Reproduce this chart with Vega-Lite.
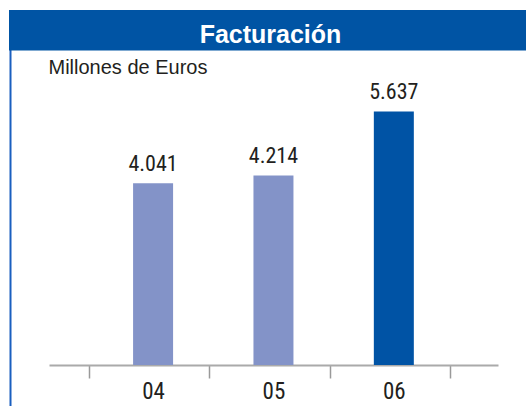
{
  "$schema": "https://vega.github.io/schema/vega-lite/v6.json",
  "autosize": {"type": "none"},
  "width": 517,
  "height": 396,
  "padding": {"left": 9, "top": 10, "right": 0, "bottom": 0},
  "background": "white",
  "config": {
    "view": {"stroke": null},
    "locale": {"number": {"decimal": ",", "thousands": ".", "grouping": [3], "currency": ["", " €"]}}
  },
  "data": {"values": [
    {"year": "04", "value": 4041},
    {"year": "05", "value": 4214},
    {"year": "06", "value": 5637}
  ]},
  "layer": [
    {
      "data": {"values": [{"title": "Facturación"}]},
      "mark": {"type": "rect", "color": "#0054a4"},
      "encoding": {
        "y": {"datum": 7895, "type": "quantitative", "scale": {"domain": [-912, 7895], "nice": false, "zero": false}},
        "y2": {"datum": 6994}
      }
    },
    {
      "data": {"values": [{"title": "Facturación"}]},
      "mark": {"type": "text", "color": "white", "fontSize": 25, "fontWeight": "bold", "font": "Liberation Sans", "baseline": "alphabetic", "align": "center", "dx": 3},
      "encoding": {
        "text": {"field": "title"},
        "y": {"datum": 7154, "type": "quantitative", "scale": {"domain": [-912, 7895], "nice": false, "zero": false}}
      }
    },
    {
      "mark": {"type": "bar", "width": 40, "xOffset": 4},
      "encoding": {
        "x": {
          "field": "year", "type": "ordinal",
          "scale": {"range": [40, 489], "paddingInner": 0, "paddingOuter": 0.365, "align": 0.454},
          "axis": {
            "title": null, "orient": "bottom", "offset": -41, "tickBand": "extent",
            "domainColor": "#aaaaaa", "domainWidth": 2,
            "tickColor": "#9a9a9a", "tickWidth": 1.5, "tickSize": 13,
            "labelFont": "Roboto Condensed, DejaVu Sans Condensed, Roboto, sans-serif", "labelFontSize": 23, "labelColor": "#231f20",
            "labelPadding": 20, "labelBaseline": "alphabetic", "labelOffset": 4, "labelAngle": 0
          }
        },
        "y": {
          "field": "value", "type": "quantitative",
          "scale": {"domain": [-912, 7895], "nice": false, "zero": false},
          "axis": {
            "orient": "left", "offset": -1, "domain": true, "domainColor": "#1a5fbf", "domainWidth": 2,
            "ticks": false, "labels": false, "grid": false,
            "title": "Millones de Euros", "titleAngle": 0, "titleAlign": "left", "titleBaseline": "alphabetic",
            "titleX": 38, "titleY": 63, "titleFont": "Liberation Sans", "titleFontSize": 20,
            "titleFontWeight": "normal", "titleColor": "#231f20"
          }
        },
        "y2": {"datum": 0},
        "color": {
          "field": "year", "type": "nominal",
          "scale": {"domain": ["04", "05", "06"], "range": ["#8393c8", "#8393c8", "#0053a5"]},
          "legend": null
        }
      }
    },
    {
      "mark": {"type": "text", "baseline": "alphabetic", "dy": -12.7, "xOffset": 4, "fontSize": 22, "font": "Roboto Condensed, DejaVu Sans Condensed, Roboto, sans-serif", "color": "#231f20"},
      "encoding": {
        "x": {"field": "year", "type": "ordinal"},
        "y": {"field": "value", "type": "quantitative", "scale": {"domain": [-912, 7895], "nice": false, "zero": false}},
        "text": {"field": "value", "type": "quantitative", "format": ","}
      }
    }
  ]
}
